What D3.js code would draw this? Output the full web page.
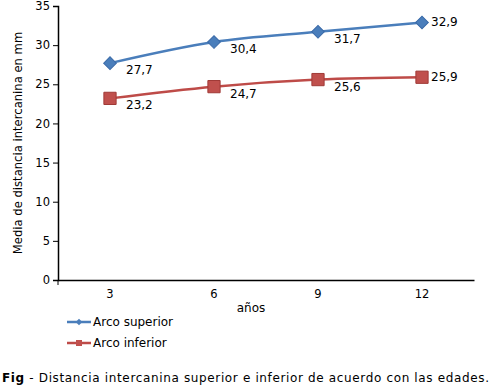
<!DOCTYPE html>
<html lang="es">
<head>
  <meta charset="UTF-8">
  <title>Distancia intercanina</title>
  <style>
    body {
      margin: 0;
      padding: 0;
      background: #fff;
      font-family: "DejaVu Sans", Verdana, sans-serif;
    }
    svg text {
      fill: #000;
    }
  </style>
</head>
<body>
  <svg id="chart" width="491" height="390"></svg>
  <script src="https://d3js.org/d3.v7.min.js"></script>
  <script>
    const edades = ['3', '6', '9', '12'];
    const arcoSuperior = [27.7, 30.4, 31.7, 32.9];
    const arcoInferior = [23.2, 24.7, 25.6, 25.9];
    const yTicks = [0, 5, 10, 15, 20, 25, 30, 35];

    const series = [
      { name: 'Arco superior', values: arcoSuperior, stroke: '#4a7ebb', fill: '#4a7ebb', edge: '#3a6aa8', diamond: true },
      { name: 'Arco inferior', values: arcoInferior, stroke: '#be4b48', fill: '#c0504d', edge: '#a03a37', diamond: false }
    ];

    const svg = d3.select('#chart');
    const plotLeft = 58, plotRight = 474, plotTop = 6, plotBottom = 280;
    const font = '"DejaVu Sans", Verdana, sans-serif';

    const x = d3.scaleBand().domain(edades).range([plotLeft, plotRight]);
    const y = d3.scaleLinear().domain([0, 35]).range([plotBottom, plotTop]);
    const fmt = v => String(v).replace('.', ',');

    // Y axis
    const yAxis = svg.append('g')
      .attr('transform', `translate(${plotLeft},0)`)
      .call(d3.axisLeft(y).tickValues(yTicks).tickSize(5).tickPadding(3));
    yAxis.select('.domain').attr('stroke', '#000').attr('stroke-width', 1.5);
    yAxis.selectAll('text').style('font-size', '11.5px').style('font-family', font);

    // X axis
    const xAxis = svg.append('g')
      .attr('transform', `translate(0,${plotBottom})`)
      .call(d3.axisBottom(x).tickSize(0).tickPadding(10).tickSizeOuter(0));
    xAxis.select('.domain').attr('stroke', '#000').attr('stroke-width', 1.5);
    xAxis.selectAll('text').style('font-size', '11.5px').style('font-family', font);
    xAxis.append('line')
      .attr('x1', plotLeft).attr('x2', plotLeft)
      .attr('y1', 0).attr('y2', 5)
      .attr('stroke', '#000');

    // Axis titles
    svg.append('text')
      .attr('transform', `translate(22,${(plotTop + plotBottom) / 2}) rotate(-90)`)
      .attr('text-anchor', 'middle')
      .style('font-size', '11.6px')
      .text('Media de distancia intercanina en mm');

    svg.append('text')
      .attr('x', 251)
      .attr('y', 312)
      .attr('text-anchor', 'middle')
      .style('font-size', '12px')
      .text('años');

    const cx = d => x(d) + x.bandwidth() / 2;
    const line = d3.line()
      .x((v, i) => cx(edades[i]))
      .y(v => y(v))
      .curve(d3.curveMonotoneX);

    const marker = (s, big) => d3.symbol().type(d3.symbolSquare)
      .size(big ? (s.diamond ? 80 : 150) : (s.diamond ? 22 : 36))();

    series.forEach(s => {
      svg.append('path')
        .datum(s.values)
        .attr('d', line)
        .attr('fill', 'none')
        .attr('stroke', s.stroke)
        .attr('stroke-width', 2.5);

      svg.selectAll(null)
        .data(s.values)
        .enter()
        .append('path')
        .attr('d', marker(s, true))
        .attr('transform', (v, i) => `translate(${cx(edades[i])},${y(v)})` + (s.diamond ? ' rotate(45)' : ''))
        .attr('fill', s.fill)
        .attr('stroke', s.edge)
        .attr('stroke-width', 1);

      svg.selectAll(null)
        .data(s.values)
        .enter()
        .append('text')
        .attr('x', (v, i) => cx(edades[i]) + (i === s.values.length - 1 ? 9 : 16))
        .attr('y', (v, i) => y(v) + (i === s.values.length - 1 ? 4 : 11))
        .style('font-size', '12px')
        .text(v => fmt(v));
    });

    // Legend
    const legend = svg.append('g').attr('transform', 'translate(67,322)');
    series.forEach((s, i) => {
      const g = legend.append('g').attr('transform', `translate(0,${i * 21})`);
      g.append('line')
        .attr('x1', 0).attr('x2', 24)
        .attr('stroke', s.stroke)
        .attr('stroke-width', 2.5);
      g.append('path')
        .attr('d', marker(s, false))
        .attr('transform', 'translate(12,0)' + (s.diamond ? ' rotate(45)' : ''))
        .attr('fill', s.fill);
      g.append('text')
        .attr('x', 26)
        .attr('y', 4)
        .style('font-size', '12px')
        .text(s.name);
    });

    // Caption
    const caption = svg.append('text')
      .attr('x', 2)
      .attr('y', 382)
      .attr('textLength', 487)
      .style('font-size', '12px');
    caption.append('tspan').style('font-weight', 'bold').text('Fig');
    caption.append('tspan').text(' - Distancia intercanina superior e inferior de acuerdo con las edades.');
  </script>
</body>
</html>
